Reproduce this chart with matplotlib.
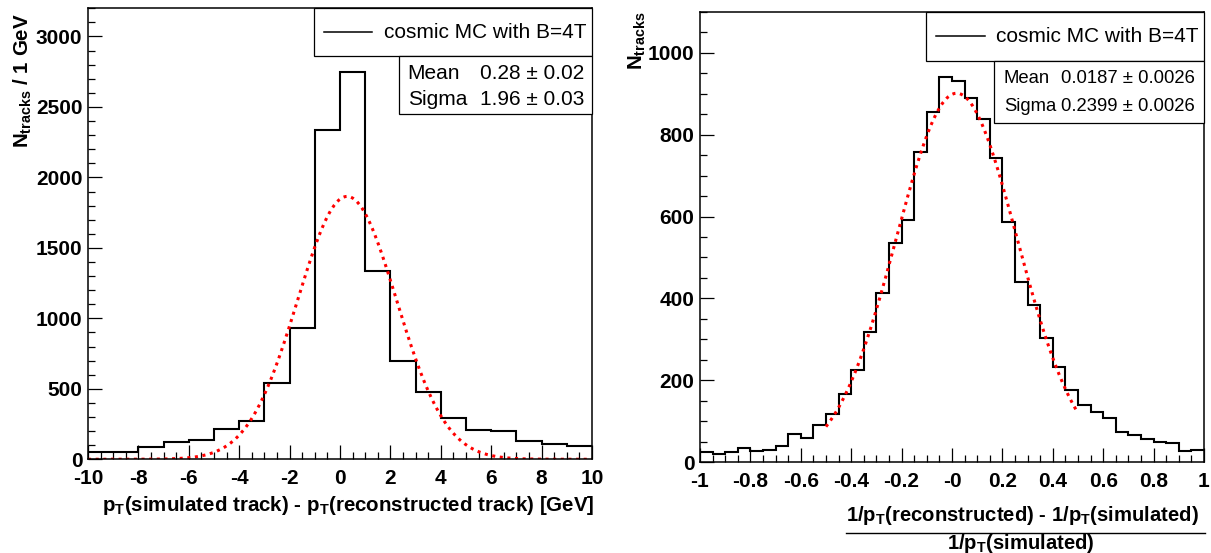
import numpy as np
import matplotlib
matplotlib.use('Agg')
import matplotlib.pyplot as plt
from matplotlib.ticker import MultipleLocator, FixedLocator, FixedFormatter
from matplotlib.patches import Rectangle
from matplotlib.lines import Line2D

# left panel: pT(sim) - pT(reco), 1 GeV bins
pt_edges = np.arange(-10, 11, 1)
pt_counts = [54, 55, 87, 123, 139, 217, 274, 541, 934, 2337,
             2751, 1339, 698, 475, 293, 206, 201, 130, 111, 97]
pt_amp, pt_mean, pt_sigma = 1865, 0.28, 1.96
pt_fit_range = (-10, 10)
pt_stats = ['0.28 \u00b1 0.02', '1.96 \u00b1 0.03']
pt_xticks = [-10, -8, -6, -4, -2, 0, 2, 4, 6, 8, 10]

# right panel: relative 1/pT residual, 0.05 bins
inv_edges = np.linspace(-1, 1, 41)
inv_counts = [24, 21, 26, 36, 28, 31, 40, 69, 60, 92,
              119, 167, 225, 319, 414, 536, 591, 758, 856, 940,
              932, 890, 837, 744, 586, 440, 383, 303, 233, 176,
              140, 124, 108, 74, 67, 56, 50, 46, 27, 30]
inv_amp, inv_mean, inv_sigma = 901, 0.0187, 0.2399
inv_fit_range = (-0.5, 0.5)
inv_stats = ['0.0187 \u00b1 0.0026', '0.2399 \u00b1 0.0026']
inv_xticks = [-1, -0.8, -0.6, -0.4, -0.2, 0, 0.2, 0.4, 0.6, 0.8, 1]
inv_xticklabels = ['-1', '-0.8', '-0.6', '-0.4', '-0.2', '-0', '0.2', '0.4', '0.6', '0.8', '1']

legend_text = 'cosmic MC with B=4T'

plt.rcParams['font.family'] = ['Liberation Sans', 'DejaVu Sans']
plt.rcParams['axes.unicode_minus'] = False
plt.rcParams['mathtext.fontset'] = 'custom'
plt.rcParams['mathtext.rm'] = 'Liberation Sans:bold'
plt.rcParams['mathtext.bf'] = 'Liberation Sans:bold'
plt.rcParams['mathtext.it'] = 'Liberation Sans:bold'
plt.rcParams['mathtext.default'] = 'rm'

fig = plt.figure(figsize=(12.11, 5.53), dpi=100)
ax1 = fig.add_axes([0.0727, 0.1695, 0.4162, 0.8155])
ax2 = fig.add_axes([0.578, 0.164, 0.4162, 0.8148])


def gauss(x, amp, mean, sigma):
    return amp * np.exp(-0.5 * ((x - mean) / sigma) ** 2)


def style_axis(ax):
    for s in ax.spines.values():
        s.set_linewidth(1.1)
    ax.tick_params(which='both', direction='in', top=False, right=False,
                   labelsize=15, width=0.9)
    ax.tick_params(which='major', length=10)
    ax.tick_params(which='minor', length=5)
    ax.tick_params(axis='x', which='major', pad=7)
    ax.tick_params(axis='y', which='major', pad=4)
    for lab in ax.get_xticklabels() + ax.get_yticklabels():
        lab.set_fontweight('bold')


def stat_boxes(ax, box, stat_box, line_x, text_x, row_y, name_x, val_x, stats, fs):
    ax.add_patch(Rectangle((box[0], box[1]), 1 - box[0], 1 - box[1],
                           transform=ax.transAxes, fill=True, facecolor='white',
                           edgecolor='black', lw=0.9, zorder=5, clip_on=False))
    ax.add_line(Line2D(line_x, [row_y[0]] * 2, transform=ax.transAxes,
                       color='black', lw=1.1, zorder=6))
    ax.text(text_x, row_y[0], legend_text, transform=ax.transAxes,
            fontsize=15, va='center', zorder=6)
    ax.add_patch(Rectangle((stat_box[0], stat_box[1]), 1 - stat_box[0],
                           box[1] - stat_box[1], transform=ax.transAxes,
                           facecolor='white', edgecolor='black', lw=0.9,
                           zorder=5, clip_on=False))
    for name, val, y in zip(['Mean', 'Sigma'], stats, row_y[1:]):
        ax.text(name_x, y, name, transform=ax.transAxes, fontsize=fs,
                va='center', zorder=6)
        ax.text(val_x, y, val, transform=ax.transAxes, fontsize=fs,
                va='center', zorder=6)


# ---- left panel
ax1.stairs(pt_counts, pt_edges, color='black', lw=1.5, baseline=None)
xf = np.linspace(*pt_fit_range, 400)
ax1.plot(xf, gauss(xf, pt_amp, pt_mean, pt_sigma), color='red', lw=2.2,
         linestyle=(0, (1, 1.5)))
ax1.set_xlim(-10, 10)
ax1.set_ylim(0, 3200)
ax1.xaxis.set_major_locator(FixedLocator(pt_xticks))
ax1.xaxis.set_minor_locator(MultipleLocator(0.5))
ax1.yaxis.set_major_locator(MultipleLocator(500))
ax1.yaxis.set_minor_locator(MultipleLocator(100))
style_axis(ax1)
ax1.set_xlabel(r'p$_{\mathrm{T}}$(simulated track) - p$_{\mathrm{T}}$(reconstructed track) [GeV]',
               fontsize=14.8, fontweight='bold', loc='right')
ax1.xaxis.set_label_coords(1.005, -0.078)
ax1.set_ylabel(r'N$_{\mathrm{tracks}}$ / 1 GeV', fontsize=14.8,
               fontweight='bold', loc='top')
ax1.yaxis.set_label_coords(-0.108, 0.99)
stat_boxes(ax1, (0.448, 0.894), (0.616, 0.765), [0.468, 0.563], 0.587,
           [0.947, 0.856, 0.797], 0.634, 0.778, pt_stats, 15)

# ---- right panel
ax2.stairs(inv_counts, inv_edges, color='black', lw=1.5, baseline=None)
xf = np.linspace(*inv_fit_range, 400)
ax2.plot(xf, gauss(xf, inv_amp, inv_mean, inv_sigma), color='red', lw=2.2,
         linestyle=(0, (1, 1.5)))
ax2.set_xlim(-1, 1)
ax2.set_ylim(0, 1100)
ax2.xaxis.set_major_locator(FixedLocator(inv_xticks))
ax2.xaxis.set_major_formatter(FixedFormatter(inv_xticklabels))
ax2.xaxis.set_minor_locator(MultipleLocator(0.05))
ax2.yaxis.set_major_locator(MultipleLocator(200))
ax2.yaxis.set_minor_locator(MultipleLocator(50))
style_axis(ax2)
ax2.set_ylabel(r'N$_{\mathrm{tracks}}$', fontsize=14.8, fontweight='bold', loc='top')
ax2.yaxis.set_label_coords(-0.103, 1.0)
ax2.text(0.99, -0.130,
         r'1/p$_{\mathrm{T}}$(reconstructed) - 1/p$_{\mathrm{T}}$(simulated)',
         transform=ax2.transAxes, ha='right', va='baseline', fontsize=14.6,
         fontweight='bold')
ax2.add_line(Line2D([0.289, 1.003], [-0.157, -0.157], transform=ax2.transAxes,
                    color='black', lw=1.0, clip_on=False))
ax2.text(0.637, -0.193, r'1/p$_{\mathrm{T}}$(simulated)', transform=ax2.transAxes,
         ha='center', va='baseline', fontsize=14.6, fontweight='bold')
stat_boxes(ax2, (0.448, 0.891), (0.583, 0.754), [0.468, 0.565], 0.587,
           [0.946, 0.851, 0.789], 0.603, 0.716, inv_stats, 13.3)

fig.savefig('out.png', dpi=100)
